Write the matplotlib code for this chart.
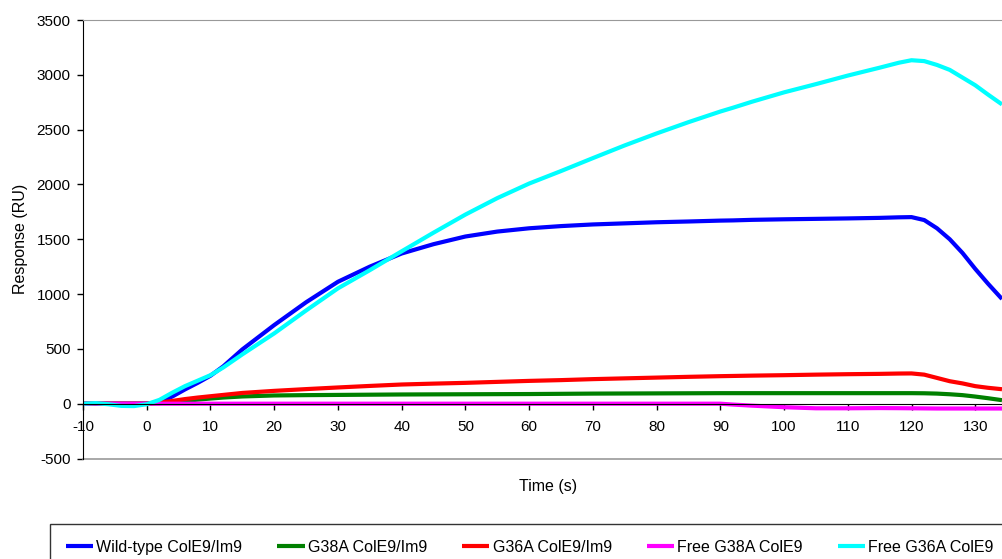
import matplotlib
matplotlib.use("Agg")
import matplotlib.pyplot as plt

plt.rcParams['font.family'] = ['Liberation Sans', 'DejaVu Sans']
plt.rcParams['axes.unicode_minus'] = False

# sensorgram time points (s)
time_s = [-10, -8, -6, -4, -2, 0, 2, 4, 6, 8, 10, 12, 15, 20, 25, 30, 35, 40,
          45, 50, 55, 60, 65, 70, 75, 80, 85, 90, 92, 95, 100, 105, 110, 115,
          118, 120, 122, 124, 126, 128, 130, 132, 134.2]

# responses (RU)
wild_type = [0, 0, 0, 0, 0, 0, 15, 65, 130, 190, 255, 340, 495, 717, 925,
             1112, 1250, 1370, 1455, 1525, 1570, 1600, 1620, 1635, 1645, 1655,
             1662, 1670, 1672, 1677, 1682, 1686, 1690, 1695, 1700, 1702, 1675,
             1600, 1500, 1375, 1230, 1095, 955]
g38a_complex = [0, 0, 0, 0, 0, 0, 5, 14, 25, 37, 47, 56, 66, 75, 78, 80, 82,
                84, 85, 86, 87, 88, 90, 92, 93, 94, 95, 96, 96, 96, 96, 96, 96,
                96, 96, 96, 95, 92, 86, 78, 65, 50, 32]
g36a_complex = [0, 0, 0, 0, 0, 0, 10, 25, 42, 56, 68, 80, 98, 117, 133, 148,
                162, 175, 183, 190, 199, 208, 215, 224, 231, 238, 245, 251, 253,
                256, 260, 265, 269, 272, 275, 276, 265, 235, 205, 185, 160, 145,
                132]
free_g38a = [0, 0, 0, 0, 0, 0, 0, 0, 0, 0, 0, 0, 0, 0, 0, 0, 0, 0, 0, 0, 0,
             0, 0, 0, 0, 0, 0, 0, -8, -18, -32, -42, -42, -40, -41, -42, -43,
             -44, -44, -44, -44, -44, -44]
free_g36a = [0, 5, -5, -20, -22, -5, 35, 100, 160, 210, 260, 330, 450, 641,
             850, 1052, 1218, 1390, 1560, 1725, 1875, 2008, 2122, 2240, 2356,
             2465, 2568, 2665, 2700, 2755, 2840, 2915, 2993, 3065, 3110, 3133,
             3125, 3090, 3045, 2975, 2905, 2820, 2730]

series = [
    ("Wild-type ColE9/Im9", wild_type, "#0000FF"),
    ("G38A ColE9/Im9", g38a_complex, "#008000"),
    ("G36A ColE9/Im9", g36a_complex, "#FF0000"),
    ("Free G38A ColE9", free_g38a, "#FF00FF"),
    ("Free G36A ColE9", free_g36a, "#00FFFF"),
]

fig = plt.figure(figsize=(10.02, 5.59), dpi=100)
ax = fig.add_axes([83 / 1002, 1 - 458.5 / 559, 1 - 83 / 1002, (458.5 - 20) / 559])

for label, vals, color in series:
    ax.plot(time_s, vals, color=color, lw=3, label=label, solid_capstyle='butt')

ax.set_xlim(-10, 134.2)
ax.set_ylim(-500, 3500)
ax.set_xticks(range(-10, 131, 10))
ax.set_yticks(range(-500, 3501, 500))

# x axis sits on the zero line, plot area frame in grey
ax.spines['bottom'].set_position(('data', 0))
ax.spines['bottom'].set_color('black')
ax.spines['left'].set_color('black')
ax.spines['right'].set_visible(False)
ax.spines['top'].set_color('#999999')
ax.axhline(-500, color='#999999', lw=1.2, clip_on=False)

ax.tick_params(axis='x', direction='out', length=4, width=1, pad=8, labelsize=11)
ax.tick_params(axis='y', direction='out', length=4, width=1, pad=5, labelsize=11)

fig.text(548 / 1002, 1 - 486 / 559, "Time (s)", ha='center', va='center', fontsize=11.5)
fig.text(21 / 1002, 1 - 239 / 559, "Response (RU)", ha='center', va='center',
         rotation=90, fontsize=11.5)

leg = fig.legend(loc='upper left', bbox_to_anchor=(50 / 1002, 1 - 524 / 559),
                 ncol=5, frameon=True, fancybox=False, fontsize=11.5,
                 handlelength=1.7, handletextpad=0.2, columnspacing=2.2,
                 borderpad=1.0, borderaxespad=0)
leg.get_frame().set_edgecolor('black')
leg.get_frame().set_linewidth(1)

fig.savefig("out.png", dpi=100)
